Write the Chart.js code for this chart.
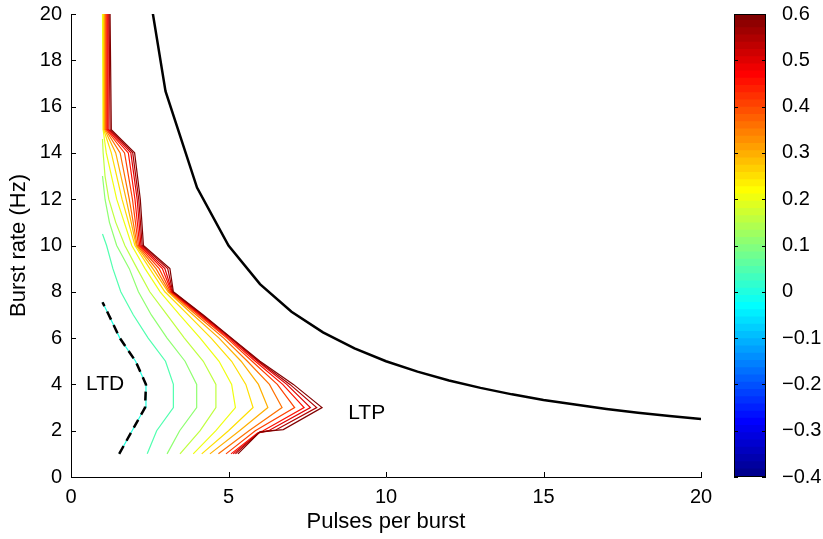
<!DOCTYPE html>
<html>
<head>
<meta charset="utf-8">
<script src="https://cdn.jsdelivr.net/npm/chart.js@4.4.1/dist/chart.umd.min.js"></script>
<style>
  html, body { margin:0; padding:0; background:#fff; }
  #wrap { position:relative; width:823px; height:539px; overflow:hidden; }
  #main { position:absolute; left:0; top:0; }
  #cbar { position:absolute; left:700px; top:0; }
</style>
</head>
<body>
<div id="wrap">
  <canvas id="main" width="720" height="539"></canvas>
  <canvas id="cbar" width="123" height="539"></canvas>
</div>
<script>
// ---------------------------
// DATA
// ---------------------------
const LEVELS = [0, 0.05, 0.1, 0.15, 0.2, 0.25, 0.3, 0.35, 0.4, 0.45, 0.5, 0.55, 0.6];

// contour polylines, [pulses per burst, burst rate]
const c000 = [[1.53,1],[1.94,2],[2.35,3],[2.38,4],[2.05,5],[1.55,6],[1.2,7],[1.0,7.55]];
const c005 = [[2.42,1],[2.72,2],[3.25,3],[3.25,4],[3.0,5],[2.45,6],[1.98,7],[1.58,8],[1.33,9],[1.13,10],[1.0,10.5]];
const c010 = [[3.05,1],[3.45,2],[3.99,3],[3.99,4],[3.62,5],[3.05,6],[2.55,7],[2.14,8],[1.85,9],[1.45,10],[1.22,11],[1.08,12],[1.0,13]];
const c015 = [[3.46,1],[4.1,2],[4.6,3],[4.6,4],[4.2,5],[3.6,6],[3.05,7],[2.5,8],[2.1,9],[1.71,10],[1.42,11],[1.2,12],[1.08,13],[1.02,14],[1.0,14.6]];
const c020 = [[3.88,1],[4.6,2],[5.22,3],[5.1,4],[4.7,5],[4.1,6],[3.45,7],[2.83,8],[2.35,9],[1.93,10],[1.45,12],[1.12,14],[1.02,15],[1.0,20]];
const c025 = [[4.15,1],[5.0,2],[5.78,3],[5.55,4],[5.1,5],[4.45,6],[3.72,7],[2.98,8],[2.5,9],[2.03,10],[1.62,12],[1.28,14],[1.04,15],[1.03,20]];
const c030 = [[4.41,1],[5.35,2],[6.25,3],[5.95,4],[5.4,5],[4.7,6],[3.88,7],[3.08,8],[2.6,9],[2.07,10],[1.75,12],[1.42,14],[1.07,15],[1.06,20]];
const c035 = [[4.68,1],[5.65,2],[6.7,3],[6.3,4],[5.6,5],[4.85,6],[3.98,7],[3.12,8],[2.7,9],[2.1,10],[1.85,12],[1.56,14],[1.1,15],[1.09,20]];
const c040 = [[4.92,1],[5.85,2],[7.1,3],[6.55,4],[5.75,5],[4.95,6],[4.05,7],[3.16,8],[2.8,9],[2.14,10],[1.95,12],[1.7,14],[1.13,15],[1.12,20]];
const c045 = [[5.08,1],[5.92,1.9],[6.1,2.0],[7.4,3],[6.72,4],[5.85,5],[5.0,6],[4.1,7],[3.19,8],[2.9,9],[2.18,10],[2.03,12],[1.82,14],[1.16,15],[1.15,20]];
const c050 = [[5.15,1],[5.95,1.9],[6.3,2.02],[7.6,3],[6.85,4],[5.92,5],[5.05,6],[4.14,7],[3.21,8],[2.98,9],[2.22,10],[2.1,12],[1.9,14],[1.2,15],[1.18,20]];
const c055 = [[5.22,1],[5.97,1.92],[6.5,2.03],[7.8,3],[6.95,4],[5.96,5],[5.08,6],[4.17,7],[3.23,8],[3.07,9],[2.26,10],[2.15,12],[1.96,14],[1.24,15],[1.21,20]];
const c060 = [[5.3,1],[6.0,1.95],[6.74,2.05],[7.97,3],[7.06,4],[6.0,5],[5.1,6],[4.2,7],[3.25,8],[3.14,9],[2.3,10],[2.2,12],[2.02,14],[1.28,15],[1.24,20]];
const CONTOURS = [c000, c005, c010, c015, c020, c025, c030, c035, c040, c045, c050, c055, c060];

// black boundary curve
const boundX = [2, 3, 4, 5, 6, 7, 8, 9, 10, 11, 12, 13, 14, 15, 16, 17, 18, 19, 20];
const boundY = [25, 16.67, 12.5, 10, 8.33, 7.14, 6.25, 5.56, 5, 4.55, 4.17, 3.85, 3.57, 3.33, 3.13, 2.94, 2.78, 2.63, 2.5];

// axes
const X_TICKS = [0, 5, 10, 15, 20];
const Y_TICKS = [0, 2, 4, 6, 8, 10, 12, 14, 16, 18, 20];
const CB_TICKS = [-0.4, -0.3, -0.2, -0.1, 0, 0.1, 0.2, 0.3, 0.4, 0.5, 0.6];
const CB_MIN = -0.4, CB_MAX = 0.6, CB_N = 64;

// ---------------------------
// HELPERS
// ---------------------------
const FONT = "'Liberation Sans', Arial, Helvetica, sans-serif";

function u(k){
  if (k < 1 || k > 47) return 0;
  if (k <= 16) return k/16;
  if (k <= 31) return 1;
  return (48-k)/16;
}
function jet(i){ // 1..64
  const r = u(i-24), g = u(i-8), b = u(i+8);
  return `rgb(${Math.round(r*255)},${Math.round(g*255)},${Math.round(b*255)})`;
}
function colorFor(v){
  let i = Math.floor((v - CB_MIN) / (CB_MAX - CB_MIN) * CB_N + 1e-9) + 1;
  return jet(Math.max(1, Math.min(CB_N, i)));
}
const pts = arr => arr.map(p => ({x:p[0], y:p[1]}));
const fmt = v => {
  const r = Math.round(v*10)/10;
  if (r === 0) return "0";
  return (r < 0 ? "\u2212" : "") + Math.abs(r).toFixed(1);
};
const noPad = s => { s.paddingTop = 0; s.paddingBottom = 0; };

// ---------------------------
// MAIN PLOT
// ---------------------------
const datasets = [];
datasets.push({ data: pts(c000), borderColor:'#000', borderWidth:2.5, borderDash:[9,6] });
datasets.push({ data: boundX.map((x,i)=>({x, y:boundY[i]})), borderColor:'#000', borderWidth:2.5 });
for (let k = LEVELS.length-1; k >= 0; k--) {
  datasets.push({ data: pts(CONTOURS[k]), borderColor: colorFor(LEVELS[k]), borderWidth:1.2 });
}
datasets.forEach(d => { d.showLine = true; d.pointRadius = 0; d.tension = 0; d.fill = false; });

const decor = {
  id:'decor',
  afterDraw(c){
    const {ctx, chartArea:a, scales:{x, y}} = c;
    ctx.save();
    ctx.strokeStyle = '#000';
    ctx.lineWidth = 1;
    ctx.beginPath();
    X_TICKS.forEach(v => { const p = Math.round(x.getPixelForValue(v)) + 0.5; ctx.moveTo(p, a.bottom); ctx.lineTo(p, a.bottom - 5); });
    Y_TICKS.forEach(v => { const p = Math.round(y.getPixelForValue(v)) + 0.5; ctx.moveTo(a.left, p); ctx.lineTo(a.left + 5, p); });
    ctx.stroke();
    ctx.fillStyle = '#000';
    ctx.font = `21px ${FONT}`;
    ctx.textBaseline = 'middle';
    ctx.textAlign = 'left';
    ctx.fillText('LTD', x.getPixelForValue(0.48), y.getPixelForValue(4.0));
    ctx.fillText('LTP', x.getPixelForValue(8.8), y.getPixelForValue(2.75));
    ctx.restore();
  }
};

new Chart(document.getElementById('main'), {
  type:'scatter',
  data:{ datasets },
  options:{
    responsive:false, animation:false, events:[],
    layout:{ padding:{ top:14, right:19, left:0, bottom:0 } },
    plugins:{ legend:{display:false}, tooltip:{enabled:false} },
    scales:{
      x:{
        type:'linear', min:0, max:20,
        afterFit(s){ s.height = 62; s.paddingLeft = 0; s.paddingRight = 0; },
        grid:{ display:false, drawTicks:false },
        border:{ display:true, color:'#000', width:1 },
        ticks:{ stepSize:5, padding:8, color:'#000', font:{family:FONT, size:20} },
        title:{ display:true, text:'Pulses per burst', color:'#000', font:{family:FONT, size:22}, padding:{top:0, bottom:4} }
      },
      y:{
        type:'linear', min:0, max:20,
        afterFit(s){ s.width = 71; noPad(s); },
        grid:{ display:false, drawTicks:false },
        border:{ display:true, color:'#000', width:1 },
        ticks:{ stepSize:2, padding:9, color:'#000', font:{family:FONT, size:20} },
        title:{ display:true, text:'Burst rate (Hz)', color:'#000', font:{family:FONT, size:22}, padding:{top:6, bottom:0} }
      }
    }
  },
  plugins:[decor]
});

// ---------------------------
// COLORBAR
// ---------------------------
const segs = [];
for (let i = 1; i <= CB_N; i++) {
  const lo = CB_MIN + (i-1) * (CB_MAX-CB_MIN) / CB_N;
  const hi = CB_MIN + i * (CB_MAX-CB_MIN) / CB_N;
  segs.push({ data:[[lo, hi + 0.002]], backgroundColor: jet(i), borderWidth:0,
              barPercentage:1, categoryPercentage:1, grouped:false });
}

const cbFrame = {
  id:'cbFrame',
  afterDraw(c){
    const {ctx, chartArea:a, scales:{y}} = c;
    ctx.save();
    ctx.strokeStyle = '#000';
    ctx.lineWidth = 1;
    ctx.strokeRect(Math.round(a.left)+0.5, Math.round(a.top)+0.5, Math.round(a.right-a.left)-1, Math.round(a.bottom-a.top)-1);
    ctx.beginPath();
    CB_TICKS.forEach(v => {
      const p = Math.round(y.getPixelForValue(v)) + 0.5;
      ctx.moveTo(a.left, p); ctx.lineTo(a.left + 4, p);
      ctx.moveTo(a.right, p); ctx.lineTo(a.right - 4, p);
    });
    ctx.stroke();
    ctx.restore();
  }
};

new Chart(document.getElementById('cbar'), {
  type:'bar',
  data:{ labels:[''], datasets: segs },
  options:{
    responsive:false, animation:false, events:[],
    layout:{ padding:{ left:34, top:14, bottom:62, right:0 } },
    plugins:{ legend:{display:false}, tooltip:{enabled:false} },
    scales:{
      x:{ display:false },
      y:{
        position:'right', min:CB_MIN, max:CB_MAX,
        afterFit(s){ s.width = 57; noPad(s); },
        afterBuildTicks(s){ s.ticks = CB_TICKS.map(v => ({value:v})); },
        grid:{ display:false, drawTicks:false },
        border:{ display:false },
        ticks:{ padding:16, color:'#000', font:{family:FONT, size:20}, callback:v => fmt(v) }
      }
    }
  },
  plugins:[cbFrame]
});
</script>
</body>
</html>
